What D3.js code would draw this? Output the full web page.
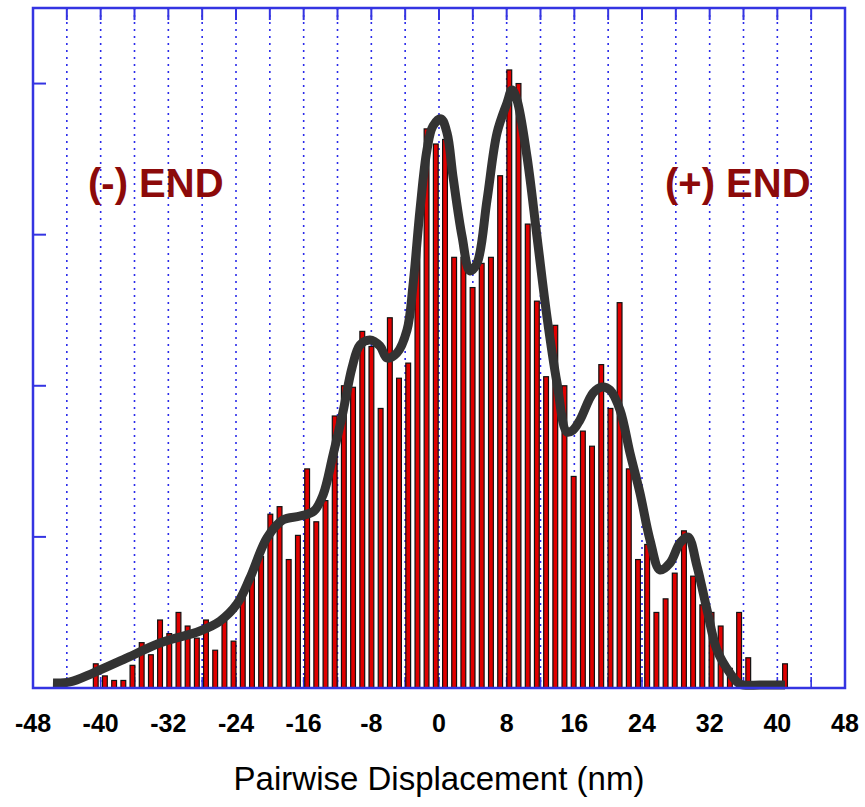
<!DOCTYPE html>
<html><head><meta charset="utf-8">
<script src="https://cdn.jsdelivr.net/npm/d3@7"></script>
<style>body{margin:0;background:#fff}</style>
</head><body><svg id="c" width="865" height="807"></svg>
<script>
// Histogram bin centres (nm) and counts
const binCenters = [-40.58,-39.50,-38.41,-37.32,-36.24,-35.15,-34.06,-32.98,-31.89,-30.80,
  -29.72,-28.63,-27.55,-26.46,-25.37,-24.29,-23.20,-22.11,-21.03,-19.94,
  -18.85,-17.77,-16.68,-15.59,-14.51,-13.42,-12.33,-11.25,-10.16,-9.07,
  -7.99,-6.90,-5.81,-4.73,-3.64,-2.55,-1.47,-0.38,0.71,1.79,
  2.88,3.97,5.05,6.14,7.23,8.31,9.40,10.49,11.57,12.66,
  13.75,14.83,15.92,17.01,18.09,19.18,20.27,21.35,22.44,23.53,
  24.61,25.70,26.79,27.87,28.96,30.04,31.13,32.22,33.30,34.39,
  35.48,36.56,37.65,38.74,39.82,40.91];
const counts = [1.6,0.8,0.5,0.5,1.5,3.0,2.2,4.5,3.6,5.0,
  4.1,3.3,4.5,2.5,4.4,3.1,6.2,7.4,8.7,11.5,
  12.0,8.5,10.1,14.5,11.0,12.4,18.0,20.0,19.9,23.6,
  22.6,18.5,24.5,20.5,21.5,29.5,37.0,36.0,36.3,28.5,
  28.5,26.5,28.1,28.5,33.9,40.9,40.0,30.7,25.6,20.6,
  24.0,20.0,14.0,17.0,16.0,21.4,18.5,25.5,14.5,8.5,
  9.5,5.0,5.9,7.6,10.4,7.4,5.5,5.0,4.1,1.3,
  5.0,2.0,0,0,0,1.6];
// Smoothed fit curve
const fitX = [-45.64,-43.63,-40.91,-36.89,-32.99,-28.26,-25.89,-23.88,-22.35,-20.34,
  -18.45,-16.43,-14.78,-13.71,-12.53,-11.35,-10.29,-9.34,-8.16,-6.98,
  -6.15,-4.97,-3.78,-3.07,-2.25,-1.42,-0.71,0.24,0.95,1.66,
  2.72,3.66,4.49,5.68,6.86,8.04,8.63,9.22,10.41,11.59,
  12.77,13.95,15.13,15.84,16.67,18.21,19.27,20.22,21.40,22.58,
  23.76,24.95,26.13,27.31,28.49,29.44,30.50,31.69,32.87,34.41,
  35.59,38.0,40.91];
const fitY = [0.33,0.40,0.99,1.99,2.98,3.77,4.43,5.56,7.28,9.93,
  11.12,11.38,11.71,12.77,15.42,18.27,21.18,22.70,23.03,22.63,
  21.84,22.17,23.69,26.67,31.63,35.61,37.19,37.66,36.73,33.82,
  29.9,27.6,28.1,32.30,36.73,38.72,39.58,38.91,35.14,29.85,
  24.55,20.19,16.94,17.07,17.74,19.52,19.92,19.72,18.40,15.55,
  12.91,9.79,7.81,8.27,9.60,9.99,8.07,5.16,2.51,0.99,
  0.26,0.20,0.20];
const xTickLabels = [-48,-40,-32,-24,-16,-8,0,8,16,24,32,40,48];
const gridTicks = [-44,-40,-36,-32,-28,-24,-20,-16,-12,-8,-4,0,4,8,12,16,20,24,28,32,36,40,44];
const yTicks = [10,20,30,40];
const xTitle = "Pairwise Displacement (nm)";
const leftLabel = "(-) END", rightLabel = "(+) END";

const svg = d3.select("#c");
const L = 33, R = 845, T = 8, B = 688;
const x = d3.scaleLinear().domain([-48, 48]).range([L, R]);
const y = d3.scaleLinear().domain([0, 45]).range([B, T]);
const blue = "#3434e2";

// dotted vertical grid
svg.append("g").selectAll("line").data(gridTicks).join("line")
  .attr("x1", d => x(d)).attr("x2", d => x(d))
  .attr("y1", T).attr("y2", B)
  .attr("stroke", "#2b2bea").attr("stroke-width", 1.6)
  .attr("stroke-dasharray", "2,5");

// bottom inner ticks
svg.append("g").selectAll("line").data(gridTicks).join("line")
  .attr("x1", d => x(d)).attr("x2", d => x(d))
  .attr("y1", B).attr("y2", B - 11)
  .attr("stroke", blue).attr("stroke-width", 1.6);

// bars
const bw = 4.8;
svg.append("g").selectAll("rect").data(binCenters.map((c, i) => ({c, v: counts[i]})).filter(d => d.v > 0))
  .join("rect")
  .attr("x", d => x(d.c) - bw / 2)
  .attr("width", bw)
  .attr("y", d => y(d.v))
  .attr("height", d => B - y(d.v))
  .attr("fill", "#e00000")
  .attr("stroke", "#111")
  .attr("stroke-width", 1.2);

// fit curve
const line = d3.line().x(d => x(d[0])).y(d => y(d[1])).curve(d3.curveCatmullRom.alpha(0.5));
svg.append("path").datum(fitX.map((v, i) => [v, fitY[i]]))
  .attr("d", line)
  .attr("fill", "none")
  .attr("stroke", "#333333")
  .attr("stroke-width", 9)
  .attr("stroke-linejoin", "round");

// frame
svg.append("rect").attr("x", L).attr("y", T).attr("width", R - L).attr("height", B - T)
  .attr("fill", "none").attr("stroke", blue).attr("stroke-width", 2.5);

// top ticks
svg.append("g").selectAll("line").data(gridTicks).join("line")
  .attr("x1", d => x(d)).attr("x2", d => x(d))
  .attr("y1", T).attr("y2", T + 12)
  .attr("stroke", blue).attr("stroke-width", 2);

// left ticks
svg.append("g").selectAll("line").data(yTicks).join("line")
  .attr("x1", L).attr("x2", L + 13)
  .attr("y1", d => y(d)).attr("y2", d => y(d))
  .attr("stroke", blue).attr("stroke-width", 2);

// x tick labels
svg.append("g").selectAll("text").data(xTickLabels).join("text")
  .attr("x", d => x(d)).attr("y", 732)
  .attr("text-anchor", "middle")
  .attr("font-family", "Liberation Sans, Arial, sans-serif")
  .attr("font-weight", "bold").attr("font-size", 25)
  .attr("fill", "#000")
  .text(d => d);

// axis title
svg.append("text").attr("x", 439).attr("y", 790)
  .attr("text-anchor", "middle")
  .attr("font-family", "Liberation Sans, Arial, sans-serif")
  .attr("font-size", 33).attr("fill", "#000")
  .text(xTitle);

// END labels
svg.append("text").attr("x", 88).attr("y", 197)
  .attr("font-family", "Liberation Sans, Arial, sans-serif")
  .attr("font-weight", "bold").attr("font-size", 40).attr("fill", "#8c0a0a")
  .text(leftLabel);
svg.append("text").attr("x", 665).attr("y", 197)
  .attr("font-family", "Liberation Sans, Arial, sans-serif")
  .attr("font-weight", "bold").attr("font-size", 40).attr("fill", "#8c0a0a")
  .text(rightLabel);
</script>
</body></html>
